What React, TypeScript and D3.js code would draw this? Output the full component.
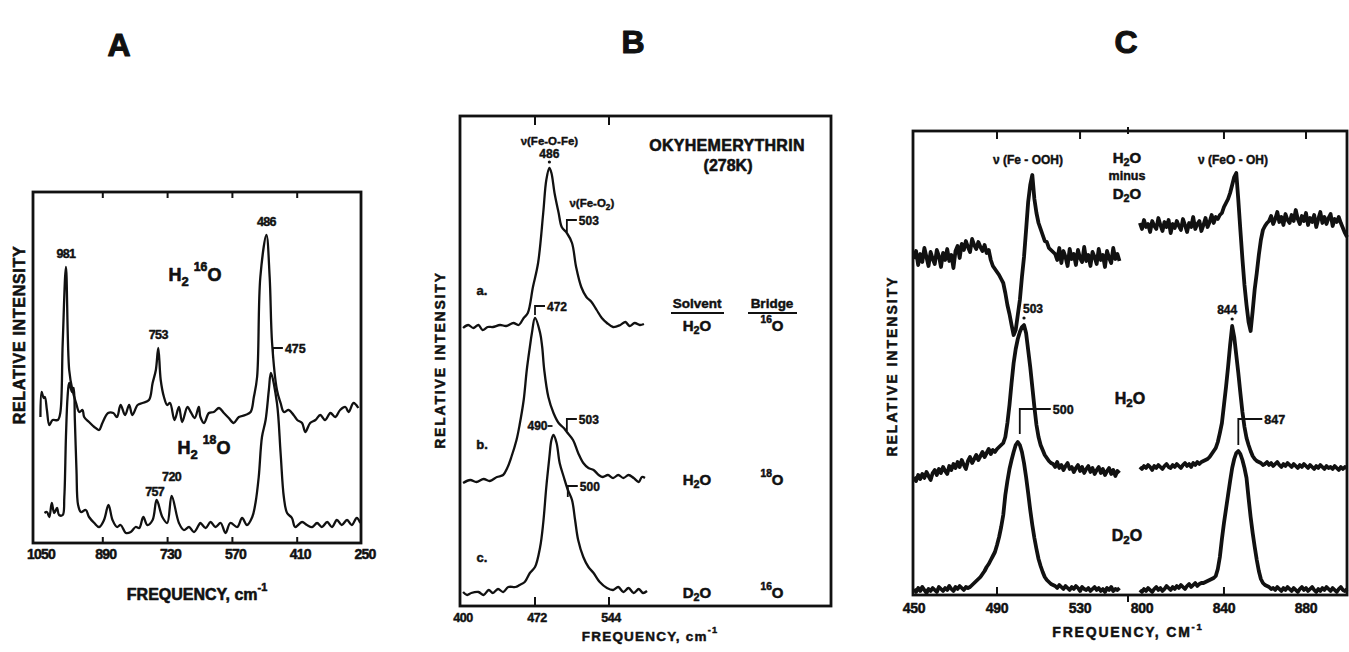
import React from "react";
import * as d3 from "d3";

type Pt = [number, number];
type Part = string | { sub: string } | { sup: string };

const FONT = "'Liberation Sans', Arial, Helvetica, sans-serif";
const INK = "#111";

// ---------- Panel A: full-range spectra in H2 16O and H2 18O ----------
const aTicks = [1050, 890, 730, 570, 410, 250];
const aInnerTicks = [890, 730, 570, 410];
const aH216O: Pt[] = [
  [1044, 125], [1041, 150], [1036, 144], [1033, 145], [1028, 132], [1022, 117], [1014, 122], [1001, 122],
  [995, 129], [989, 199], [981, 275], [973, 172], [965, 152], [956, 139], [948, 130], [940, 132],
  [936, 125], [924, 120], [911, 115], [899, 112], [891, 119], [877, 129], [864, 129], [855, 125],
  [846, 137], [835, 127], [825, 137], [817, 127], [804, 137], [792, 139], [776, 142], [767, 159],
  [759, 172], [753, 194], [747, 162], [739, 145], [731, 137], [724, 139], [713, 122], [702, 135],
  [694, 120], [681, 135], [673, 130], [663, 124], [653, 135], [649, 125], [640, 119], [628, 129],
  [616, 130], [603, 134], [591, 129], [579, 124], [567, 119], [554, 125], [538, 127], [525, 130],
  [517, 145], [509, 165], [501, 265], [486, 307], [478, 265], [472, 199], [460, 152], [451, 139],
  [443, 130], [431, 132], [419, 127], [410, 122], [398, 119], [390, 110], [378, 119], [365, 122],
  [353, 127], [341, 122], [328, 129], [316, 125], [304, 132], [291, 135], [283, 130], [271, 139],
  [259, 134],
];
const aH218O: Pt[] = [
  [1034, 29], [1028, 30], [1022, 25], [1016, 39], [1010, 29], [1003, 34], [998, 27], [989, 27],
  [985, 45], [981, 105], [977, 145], [973, 159], [966, 150], [962, 154], [959, 122], [955, 72],
  [951, 37], [944, 30], [932, 32], [924, 25], [911, 19], [899, 15], [887, 22], [876, 37],
  [866, 22], [855, 15], [846, 17], [833, 9], [821, 10], [809, 15], [800, 14], [790, 25],
  [780, 17], [767, 22], [757, 42], [743, 25], [731, 19], [720, 46], [702, 19], [690, 12],
  [677, 15], [665, 10], [653, 17], [649, 19], [636, 14], [624, 20], [612, 15], [599, 19],
  [587, 9], [575, 19], [558, 15], [546, 24], [534, 17], [521, 25], [513, 39], [505, 65],
  [497, 105], [488, 122], [480, 152], [475, 169], [460, 139], [451, 89], [443, 45], [435, 29],
  [423, 24], [415, 15], [398, 20], [386, 17], [373, 15], [361, 19], [349, 15], [336, 20],
  [324, 15], [312, 22], [300, 17], [287, 22], [275, 17], [263, 24], [254, 19],
];
const aPeaks16 = [981, 753, 486];

// ---------- Panel B: oxyhemerythrin (278K) ----------
const bTicks = [400, 472, 544];
const bTraceA: Pt[] = [
  [402, 278], [407, 281], [412, 278], [417, 281], [421, 276], [426, 279], [431, 279], [438, 281],
  [444, 280], [451, 283], [456, 281], [461, 288], [465, 293], [470, 319], [475, 343], [480, 393],
  [483, 426], [486, 438], [488, 433], [491, 413], [495, 393], [498, 379], [503, 373], [508, 363],
  [512, 339], [517, 319], [522, 309], [527, 304], [532, 296], [537, 288], [542, 283], [548, 279],
  [555, 281], [560, 284], [564, 280], [569, 283], [574, 281], [578, 282],
];
const bTraceB: Pt[] = [
  [402, 123], [409, 126], [415, 124], [422, 127], [428, 125], [435, 129], [441, 131], [445, 138],
  [449, 149], [454, 166], [457, 181], [461, 206], [464, 236], [467, 259], [469, 273], [472, 288],
  [477, 273], [479, 259], [481, 236], [485, 209], [490, 193], [495, 183], [500, 178], [503, 174],
  [509, 166], [514, 153], [519, 143], [524, 138], [529, 136], [534, 131], [538, 129], [543, 131],
  [548, 128], [553, 131], [558, 128], [563, 131], [568, 128], [573, 124], [576, 129], [579, 128],
];
const bTraceC: Pt[] = [
  [402, 14], [406, 11], [410, 13], [417, 14], [422, 11], [427, 16], [431, 13], [436, 17],
  [441, 14], [446, 19], [453, 19], [457, 21], [462, 24], [467, 33], [472, 39], [477, 59],
  [480, 83], [483, 119], [486, 149], [488, 166], [490, 171], [493, 163], [496, 143], [500, 129],
  [504, 116], [508, 106], [511, 86], [514, 66], [519, 49], [524, 39], [529, 33], [535, 24],
  [542, 18], [548, 16], [553, 19], [558, 14], [563, 18], [568, 13], [573, 17], [577, 13],
  [581, 15],
];
const bTraceNames = ["a.", "b.", "c."];
const bSolvents: Part[][] = [["H", { sub: "2" }, "O"], ["H", { sub: "2" }, "O"], ["D", { sub: "2" }, "O"]];
const bBridges: Part[][] = [[{ sup: "16" }, "O"], [{ sup: "18" }, "O"], [{ sup: "16" }, "O"]];

// ---------- Panel C: H2O vs D2O, two frequency windows (1 cm-1 steps) ----------
const cLeftTicks = [450, 490, 530];
const cRightTicks = [800, 840, 880];
const cLeftStart = 450;
const cRightStart = 799;
const cDiffLeft = [
  336, 344, 330, 341, 333, 347, 338, 329, 343, 336, 331, 345, 339, 328, 342, 335, 346, 334, 340, 327,
  344, 349, 337, 351, 345, 354, 348, 343, 356, 350, 346, 353, 348, 344, 350,
  342, 345, 335, 329, 326, 323, 320, 316, 312, 302, 290, 281, 270, 260, 265, 280, 295, 318, 338, 365,
  393, 410, 420, 396, 382, 372, 366, 360, 354, 353, 347, 345, 343,
  341, 335, 347, 332, 344, 338, 329, 346, 336, 341, 330, 345, 337, 333, 348, 334, 340, 329, 343, 338,
  331, 346, 335, 340, 328, 344, 337, 332, 347, 336, 341, 334,
];
const cDiffRight = [
  372, 366, 375, 368, 371, 363, 374, 369, 366, 377, 370, 364, 373, 368, 375, 362, 371, 367, 374, 369,
  365, 376, 370, 363, 372, 368, 378, 366, 371, 374, 364, 370, 377, 368, 373, 380, 372, 378, 376,
  380, 382, 388, 392, 396, 402, 410, 418, 422, 395, 365, 336, 310, 290, 273, 264, 284, 306, 322, 340,
  355, 365, 369, 372,
  374, 379, 371, 376, 383, 373, 378, 370, 381, 375, 372, 380, 374, 385, 376, 371, 379, 374, 382, 370,
  377, 373, 380, 368, 376, 383, 372, 378, 371, 377, 381, 369, 376, 373, 378, 372, 367, 362, 358,
];
const cH2OLeft = [
  118, 114, 120, 116, 121, 117, 123, 119, 115, 122, 125, 120, 126, 122, 128, 124, 121, 129, 125, 131,
  127, 133, 128, 135, 130, 126, 134, 138, 132, 136, 140, 135, 139, 143, 138, 142, 146, 141, 145, 143,
  146, 148, 150, 152, 158, 172, 190, 212, 232, 246, 256, 263, 268, 270, 262, 245, 228, 208, 188, 170,
  158, 150, 145, 140, 137, 134, 132,
  131, 128, 133, 127, 130, 125, 129, 132, 126, 128, 123, 127, 130, 124, 128, 122, 126, 129, 123, 127,
  121, 125, 128, 122, 126, 120, 124, 127, 121, 125, 119, 124, 122,
];
const cH2ORight = [
  128, 126, 129, 127, 130, 128, 125, 129, 127, 130, 128, 126, 129, 131, 128, 127, 130, 128, 131, 129,
  127, 130, 132, 129, 131, 128, 132, 130, 133, 131, 133,
  134, 135, 136, 138, 141, 144, 147, 153, 162, 172, 190, 208, 228, 250, 269, 258, 240, 222, 202, 183,
  168, 157, 150, 144, 139, 136, 134, 133,
  132, 130, 131, 133, 130, 132, 129, 131, 133, 130, 128, 131, 129, 132, 130, 128, 131, 129, 127, 130,
  128, 131, 129, 127, 130, 128, 126, 129, 127, 130, 128, 126, 129, 127, 128, 126, 129, 127, 125, 128,
  126, 128, 127,
];
const cD2OLeft = [
  6, 3, 7, 4, 8, 5, 2, 6, 4, 7, 5, 3, 8, 6, 4, 7, 5, 9, 6, 4, 8, 6, 9, 7, 5, 8,
  7, 8, 10, 12, 14, 16, 18, 21, 24, 28, 31, 35, 39, 43, 50, 58, 68, 80, 100, 114,
  126, 135, 143, 150, 153, 150, 143, 132, 118, 102, 85, 70, 57, 46, 36, 29, 23, 18, 15, 13, 11, 10,
  9, 7, 10, 8, 6, 9, 7, 5, 8, 6, 9, 7, 4, 8, 6, 5, 7, 4, 6, 8, 5, 7, 4, 6, 3, 7, 5, 8, 4, 6, 5, 7,
];
const cD2ORight = [
  5, 3, 6, 4, 7, 5, 3, 6, 8, 5, 7, 4, 6, 9, 7, 5, 8, 6, 9, 7, 10, 8, 6, 9, 11, 8, 10, 12, 9, 11, 12,
  12, 13, 14, 15, 16, 17, 19, 26, 38, 56, 72, 86, 100, 114, 127, 136, 142, 144, 141, 135, 127, 117,
  97, 78, 62, 48, 35, 24, 16, 12, 10, 9,
  8, 6, 7, 5, 8, 6, 4, 7, 5, 8, 6, 4, 7, 5, 3, 6, 8, 5, 7, 4, 6, 8, 5, 3, 6, 4, 7, 5, 8, 6, 4, 7, 5,
  3, 6, 8, 5, 4, 6,
];

// ---------- helpers ----------
function toPairs(start: number, values: number[]): Pt[] {
  return values.map((v, i) => [start + i, v] as Pt);
}

function valueAt(trace: Pt[], f: number): number {
  const s = trace[0][0] < trace[trace.length - 1][0] ? trace : [...trace].reverse();
  const i = d3.bisector((d: Pt) => d[0]).left(s, f);
  if (i <= 0) return s[0][1];
  if (i >= s.length) return s[s.length - 1][1];
  const a = s[i - 1];
  const b = s[i];
  return a[1] + ((f - a[0]) / (b[0] - a[0])) * (b[1] - a[1]);
}

// Bold print-style label; a thin outline thickens the glyphs.
function Txt(props: {
  x: number; y: number; size?: number; anchor?: string; rotate?: number;
  spacing?: number; parts: Part[];
}) {
  const { x, y, size = 12, anchor = "middle", rotate = 0, spacing = 0, parts } = props;
  let cur = 0;
  const kids = parts.map((p, i) => {
    let target = 0;
    let fs = size;
    let text = "";
    if (typeof p === "string") {
      text = p;
    } else if ("sub" in p) {
      target = size * 0.32; fs = size * 0.72; text = p.sub;
    } else {
      target = -size * 0.42; fs = size * 0.68; text = p.sup;
    }
    const dy = target - cur;
    cur = target;
    return (
      <tspan key={i} dy={dy} fontSize={fs}>{text}</tspan>
    );
  });
  return (
    <text
      transform={`translate(${x},${y}) rotate(${rotate})`}
      fontSize={size}
      fontWeight="bold"
      textAnchor={anchor}
      dominantBaseline="central"
      letterSpacing={spacing}
      fill={INK}
      stroke={INK}
      strokeWidth={Math.max(0.3, size * 0.035)}
      strokeLinejoin="round"
    >
      {kids}
    </text>
  );
}

function Bracket(props: { x: number; yBottom: number; yTop: number; len: number; label: string; size: number }) {
  const { x, yBottom, yTop, len, label, size } = props;
  return (
    <g>
      <path d={`M${x},${yBottom}V${yTop}H${x + len}`} fill="none" stroke={INK} strokeWidth={1.8} />
      <Txt x={x + len + 2} y={yTop + 1} size={size} anchor="start" parts={[label]} />
    </g>
  );
}

// ---------- Panel A ----------
function PanelA() {
  const x = d3.scaleLinear().domain([1050, 250]).range([38, 362]);
  const y = d3.scaleLinear().domain([0, 350]).range([542, 192]);
  const line = d3.line<Pt>().x((d) => x(d[0])).y((d) => y(d[1])).curve(d3.curveCatmullRom.alpha(0.5));
  const frame = { l: 33, t: 192, r: 361, b: 543 };
  const peak475 = y(valueAt(aH218O, 475));
  return (
    <g>
      <Txt x={119} y={45} size={32} parts={["A"]} />
      <rect x={frame.l} y={frame.t} width={frame.r - frame.l} height={frame.b - frame.t}
        fill="none" stroke={INK} strokeWidth={2.8} />
      {aInnerTicks.map((t) => (
        <g key={t}>
          <line x1={x(t)} x2={x(t)} y1={frame.b} y2={frame.b - 6} stroke={INK} strokeWidth={2} />
          <line x1={x(t)} x2={x(t)} y1={frame.t} y2={frame.t + 6} stroke={INK} strokeWidth={2} />
        </g>
      ))}
      {aTicks.map((t) => (
        <Txt key={t} x={x(t) + 3} y={554} size={14} spacing={-0.8} parts={[String(t)]} />
      ))}
      <path d={line(aH216O) || ""} fill="none" stroke={INK} strokeWidth={2.3} strokeLinejoin="round" />
      <path d={line(aH218O) || ""} fill="none" stroke={INK} strokeWidth={2.3} strokeLinejoin="round" />
      {aPeaks16.map((p) => (
        <Txt key={p} x={x(p)} y={y(valueAt(aH216O, p)) - 13} size={12.5} spacing={-0.6} parts={[String(p)]} />
      ))}
      <Txt x={x(757) - 2} y={y(valueAt(aH218O, 757)) - 8} size={12.5} spacing={-0.6} parts={["757"]} />
      <Txt x={x(720)} y={y(valueAt(aH218O, 720)) - 19} size={12.5} spacing={-0.6} parts={["720"]} />
      <Bracket x={x(475) + 2} yBottom={peak475 - 15} yTop={peak475 - 25} len={10} label="475" size={12.5} />
      <Txt x={195} y={275} size={18} parts={["H", { sub: "2" }, " ", { sup: "16" }, "O"]} />
      <Txt x={204} y={448} size={18} parts={["H", { sub: "2" }, " ", { sup: "18" }, "O"]} />
      <Txt x={197} y={594} size={16} parts={["FREQUENCY, cm", { sup: "-1" }]} />
      <Txt x={19} y={335} size={16} rotate={-90} spacing={0.7} parts={["RELATIVE INTENSITY"]} />
    </g>
  );
}

// ---------- Panel B ----------
function PanelB() {
  const x = d3.scaleLinear().domain([400, 760]).range([461, 831]);
  const y = d3.scaleLinear().domain([0, 490]).range([606, 116]);
  const line = d3.line<Pt>().x((d) => x(d[0])).y((d) => y(d[1])).curve(d3.curveCatmullRom.alpha(0.5));
  const frame = { l: 460, t: 116, r: 831, b: 606 };
  const traces = [bTraceA, bTraceB, bTraceC];
  const rowY = traces.map((t) => y(t[t.length - 1][1]));
  const yA486 = y(valueAt(bTraceA, 486));
  const yA503 = y(valueAt(bTraceA, 503));
  const yB472 = y(valueAt(bTraceB, 472));
  const yB503 = y(valueAt(bTraceB, 503));
  const yC490 = y(valueAt(bTraceC, 490));
  const yC500 = y(valueAt(bTraceC, 500));
  return (
    <g>
      <Txt x={633} y={42} size={32} parts={["B"]} />
      <rect x={frame.l} y={frame.t} width={frame.r - frame.l} height={frame.b - frame.t}
        fill="none" stroke={INK} strokeWidth={2.8} />
      {bTicks.slice(1).map((t) => (
        <g key={t}>
          <line x1={x(t)} x2={x(t)} y1={frame.b} y2={frame.b - 9} stroke={INK} strokeWidth={2} />
          <line x1={x(t)} x2={x(t)} y1={frame.t} y2={frame.t + 9} stroke={INK} strokeWidth={2} />
        </g>
      ))}
      {bTicks.map((t) => (
        <Txt key={t} x={x(t) + 2} y={618} size={12.5} spacing={-0.4} parts={[String(t)]} />
      ))}
      {traces.map((t, i) => (
        <path key={i} d={line(t) || ""} fill="none" stroke={INK} strokeWidth={2.3} strokeLinejoin="round" />
      ))}
      {bTraceNames.map((n, i) => (
        <Txt key={n} x={482} y={rowY[i] - 34} size={13} parts={[n]} />
      ))}
      {/* peak annotations */}
      <Txt x={x(486)} y={yA486 - 27} size={11.5} parts={["\u03bd(Fe-O-Fe)"]} />
      <Txt x={x(486)} y={yA486 - 14} size={12} parts={["486"]} />
      <circle cx={x(486)} cy={yA486 - 6} r={1.6} fill={INK} />
      <Txt x={x(503) + 25} y={yA503 - 30} size={11.5} parts={["\u03bd(Fe-O", { sub: "2" }, ")"]} />
      <Bracket x={x(503)} yBottom={yA503 - 1} yTop={yA503 - 13} len={10} label="503" size={12} />
      <Bracket x={x(472)} yBottom={yB472 - 3} yTop={yB472 - 12} len={10} label="472" size={12} />
      <Bracket x={x(503)} yBottom={yB503 - 1} yTop={yB503 - 13} len={10} label="503" size={12} />
      <Txt x={x(490) - 6} y={yC490 - 9} size={12} anchor="end" parts={["490"]} />
      <line x1={x(490) - 6} x2={x(490) - 1} y1={yC490 - 9} y2={yC490 - 9} stroke={INK} strokeWidth={1.8} />
      <Bracket x={x(500) + 4} yBottom={yC500 + 20} yTop={yC500 + 9} len={10} label="500" size={12} />
      {/* sample table */}
      <Txt x={727} y={145} size={16} spacing={0.3} parts={["OKYHEMERYTHRIN"]} />
      <Txt x={728} y={165} size={16} parts={["(278K)"]} />
      <Txt x={697} y={303} size={13.5} parts={["Solvent"]} />
      <Txt x={772} y={303} size={13.5} parts={["Bridge"]} />
      <line x1={671} x2={724} y1={313} y2={313} stroke={INK} strokeWidth={2} />
      <line x1={748} x2={797} y1={313} y2={313} stroke={INK} strokeWidth={2} />
      {bSolvents.map((p, i) => (
        <Txt key={"s" + i} x={697} y={rowY[i] + 1} size={15} parts={p} />
      ))}
      {bBridges.map((p, i) => (
        <Txt key={"b" + i} x={772} y={rowY[i] + 1} size={15} parts={p} />
      ))}
      <Txt x={650} y={636} size={13.5} spacing={1.2} parts={["FREQUENCY, cm", { sup: "-1" }]} />
      <Txt x={440} y={360} size={14} rotate={-90} spacing={1.8} parts={["RELATIVE INTENSITY"]} />
    </g>
  );
}

// ---------- Panel C ----------
function PanelC() {
  const xl = d3.scaleLinear().domain([450, 553.1]).range([914, 1128]);
  const xr = d3.scaleLinear().domain([793.2, 900]).range([1128, 1347]);
  const y = d3.scaleLinear().domain([0, 464]).range([595, 131]);
  const frame = { l: 913, t: 131, r: 1347, b: 595 };
  const lineL = d3.line<Pt>().x((d) => xl(d[0])).y((d) => y(d[1]));
  const lineR = d3.line<Pt>().x((d) => xr(d[0])).y((d) => y(d[1]));
  const diffL = toPairs(cLeftStart, cDiffLeft);
  const diffR = toPairs(cRightStart, cDiffRight);
  const h2oL = toPairs(cLeftStart, cH2OLeft);
  const h2oR = toPairs(cRightStart, cH2ORight);
  const d2oL = toPairs(cLeftStart, cD2OLeft);
  const d2oR = toPairs(cRightStart, cD2ORight);
  const y503 = y(valueAt(h2oL, 503));
  const y844 = y(valueAt(h2oR, 844));
  const y500 = y(valueAt(d2oL, 500));
  const y847 = y(valueAt(d2oR, 847));
  const sw = 3.8;
  return (
    <g>
      <Txt x={1126} y={42} size={32} parts={["C"]} />
      <rect x={frame.l} y={frame.t} width={frame.r - frame.l} height={frame.b - frame.t}
        fill="none" stroke={INK} strokeWidth={2.8} />
      {[490, 530].map((t) => (
        <line key={t} x1={xl(t)} x2={xl(t)} y1={frame.t} y2={frame.t + 8} stroke={INK} strokeWidth={2} />
      ))}
      {[840, 880].map((t) => (
        <line key={t} x1={xr(t)} x2={xr(t)} y1={frame.t} y2={frame.t + 8} stroke={INK} strokeWidth={2} />
      ))}
      <line x1={xl(490)} x2={xl(490)} y1={frame.b} y2={frame.b - 8} stroke={INK} strokeWidth={2} />
      <line x1={xr(840)} x2={xr(840)} y1={frame.b} y2={frame.b - 8} stroke={INK} strokeWidth={2} />
      <line x1={1128} x2={1128} y1={frame.b} y2={frame.b + 7} stroke={INK} strokeWidth={2} />
      <line x1={1128} x2={1128} y1={frame.t - 4} y2={frame.t + 3} stroke={INK} strokeWidth={2} />
      {cLeftTicks.map((t) => (
        <Txt key={t} x={xl(t)} y={608} size={14} spacing={-0.3} parts={[String(t)]} />
      ))}
      {cRightTicks.map((t) => (
        <Txt key={t} x={xr(t)} y={608} size={14} spacing={-0.3} parts={[String(t)]} />
      ))}
      {[diffL, h2oL, d2oL].map((d, i) => (
        <path key={"l" + i} d={lineL(d) || ""} fill="none" stroke={INK} strokeWidth={sw} strokeLinejoin="round" />
      ))}
      {[diffR, h2oR, d2oR].map((d, i) => (
        <path key={"r" + i} d={lineR(d) || ""} fill="none" stroke={INK} strokeWidth={sw} strokeLinejoin="round" />
      ))}
      {/* peak labels */}
      <Txt x={xl(503) + 9} y={y503 - 16} size={12} parts={["503"]} />
      <circle cx={xl(503)} cy={y503 - 7} r={1.6} fill={INK} />
      <Txt x={xr(844) - 5} y={y844 - 16} size={12} parts={["844"]} />
      <circle cx={xr(844)} cy={y844 - 7} r={1.6} fill={INK} />
      <Bracket x={xl(500) + 2} yBottom={y500 - 8} yTop={y500 - 33} len={31} label="500" size={12.5} />
      <Bracket x={xr(847)} yBottom={y847 - 6} yTop={y847 - 32} len={24} label="847" size={12.5} />
      <Txt x={1028} y={160} size={12} parts={["\u03bd (Fe - OOH)"]} />
      <Txt x={1233} y={160} size={12} parts={["\u03bd (FeO - OH)"]} />
      <Txt x={1127} y={157} size={15} parts={["H", { sub: "2" }, "O"]} />
      <Txt x={1127} y={176} size={12.5} parts={["minus"]} />
      <Txt x={1127} y={193} size={15} parts={["D", { sub: "2" }, "O"]} />
      <Txt x={1130} y={398} size={16} parts={["H", { sub: "2" }, "O"]} />
      <Txt x={1127} y={535} size={16} parts={["D", { sub: "2" }, "O"]} />
      <Txt x={1128} y={632} size={14} spacing={1.8} parts={["FREQUENCY, CM", { sup: "-1" }]} />
      <Txt x={892} y={366} size={14} rotate={-90} spacing={2} parts={["RELATIVE INTENSITY"]} />
    </g>
  );
}

export default function App() {
  return (
    <svg
      width={1349}
      height={652}
      viewBox="0 0 1349 652"
      style={{ position: "absolute", left: 0, top: 0, display: "block", background: "#fff" }}
      fontFamily={FONT}
    >
      <rect width={1349} height={652} fill="#fff" />
      <PanelA />
      <PanelB />
      <PanelC />
    </svg>
  );
}
